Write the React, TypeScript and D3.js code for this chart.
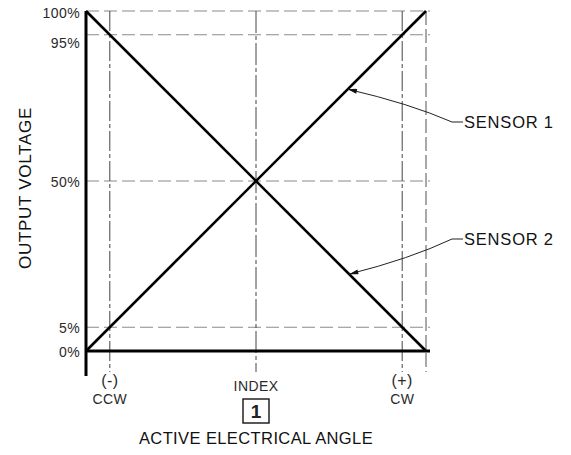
import React from "react";
import * as d3 from "d3";

// ---- data ----
const angleDomain = [-50, 50]; // active electrical angle (arbitrary units), INDEX = 0
const outputDomain = [0, 100]; // output voltage %
const sensor1 = [
  { angle: -50, out: 0 },
  { angle: 50, out: 100 },
];
const sensor2 = [
  { angle: -50, out: 100 },
  { angle: 50, out: 0 },
];
const angleMarks = [
  { angle: -43, top: "(-)", bottom: "CCW" },
  { angle: 0, top: "INDEX", bottom: "" },
  { angle: 43, top: "(+)", bottom: "CW" },
];
const yTickLabels = ["0%", "5%", "50%", "95%", "100%"];
const yTickValues = [0, 7, 50, 93, 100];
const sensorLabels = ["SENSOR 1", "SENSOR 2"];
const sensorArrowAngles = [27, 27.4];

const W = 571;
const H = 455;
const FONT = "'Liberation Sans', Arial, sans-serif";

export default function App() {
  const x = d3.scaleLinear().domain(angleDomain).range([86, 426]);
  const y = d3.scaleLinear().domain(outputDomain).range([351, 11]);
  const line = d3
    .line<{ angle: number; out: number }>()
    .x((d) => x(d.angle))
    .y((d) => y(d.out));

  const s1 = d3.scaleLinear().domain([sensor1[0].angle, sensor1[1].angle]).range([sensor1[0].out, sensor1[1].out]);
  const s2 = d3.scaleLinear().domain([sensor2[0].angle, sensor2[1].angle]).range([sensor2[0].out, sensor2[1].out]);

  const x0 = x(angleDomain[0]);
  const x1 = x(angleDomain[1]);
  const yBottom = 372;

  const arrows = [
    { tipX: x(sensorArrowAngles[0]), tipY: y(s1(sensorArrowAngles[0])), labelY: 122, label: sensorLabels[0] },
    { tipX: x(sensorArrowAngles[1]), tipY: y(s2(sensorArrowAngles[1])), labelY: 239, label: sensorLabels[1] },
  ];

  return (
    <div style={{ margin: -8 }}>
      <svg width={W} height={H} style={{ display: "block", background: "#fff" }}>
        <defs>
          <marker id="arr" viewBox="0 0 11 6" refX="11" refY="3" markerWidth="11" markerHeight="5" markerUnits="userSpaceOnUse" orient="auto">
            <path d="M0,0 L11,3 L0,6 Z" fill="#111" />
          </marker>
        </defs>

        {/* horizontal grid lines */}
        {yTickValues
          .filter((v) => v > 0)
          .map((v) => (
            <line
              key={"h" + v}
              x1={x0}
              x2={x1 + 4}
              y1={y(v)}
              y2={y(v)}
              stroke="#8a8a8a"
              strokeWidth={1.1}
              strokeDasharray="13 5"
            />
          ))}

        {/* right boundary */}
        <line x1={x1} x2={x1} y1={y(100)} y2={yBottom} stroke="#a8a8a8" strokeWidth={2} strokeDasharray="14 4" />

        {/* angle marks (center lines) */}
        {angleMarks.map((m) => (
          <line
            key={"v" + m.angle}
            x1={x(m.angle)}
            x2={x(m.angle)}
            y1={y(100)}
            y2={yBottom}
            stroke="#444"
            strokeWidth={1}
            strokeDasharray={m.angle === 0 ? "22 3 4 3" : "20 3 4 3"}
          />
        ))}

        {/* sensor lines */}
        <path d={line(sensor1) || ""} fill="none" stroke="#000" strokeWidth={2.6} />
        <path d={line(sensor2) || ""} fill="none" stroke="#000" strokeWidth={2.6} />

        {/* axes */}
        <line x1={x0} x2={x0} y1={y(100)} y2={376} stroke="#000" strokeWidth={3} />
        <line x1={x0} x2={x1 + 4} y1={y(0)} y2={y(0)} stroke="#000" strokeWidth={3} />

        {/* y tick labels */}
        {yTickValues.map((v, i) => (
          <text
            key={"yl" + v}
            x={80}
            y={y(v) + (v === 93 ? 8 : v === 100 ? 2 : 1)}
            textAnchor="end"
            dominantBaseline="central"
            fontFamily={FONT}
            fontSize={14}
            letterSpacing={0.4}
            fill="#2a2a2a"
          >
            {yTickLabels[i]}
          </text>
        ))}

        {/* x labels */}
        {angleMarks.map((m) => (
          <g key={"xl" + m.angle} fontFamily={FONT} fill="#2a2a2a" textAnchor="middle" letterSpacing={0.4}>
            <text x={x(m.angle)} y={m.angle === 0 ? 386 : 380} dominantBaseline="central" fontSize={m.angle === 0 ? 14 : 16}>
              {m.top}
            </text>
            {m.bottom && (
              <text x={x(m.angle)} y={399} dominantBaseline="central" fontSize={14}>
                {m.bottom}
              </text>
            )}
          </g>
        ))}

        {/* boxed note */}
        <rect x={x(0) - 13} y={399} width={26} height={24} fill="#fff" stroke="#222" strokeWidth={1.5} />
        <text x={x(0)} y={411.5} textAnchor="middle" dominantBaseline="central" fontFamily={FONT} fontWeight="bold" fontSize={19} fill="#222">
          1
        </text>

        {/* axis titles */}
        <text x={x(0)} y={438} textAnchor="middle" dominantBaseline="central" fontFamily={FONT} fontSize={16.5} letterSpacing={0.4} fill="#111">
          ACTIVE ELECTRICAL ANGLE
        </text>
        <text
          transform={`translate(25,${y(50) + 7}) rotate(-90)`}
          textAnchor="middle"
          dominantBaseline="central"
          fontFamily={FONT}
          fontSize={17}
          letterSpacing={0.7}
          fill="#111"
        >
          OUTPUT VOLTAGE
        </text>

        {/* sensor callouts */}
        {arrows.map((a) => {
          const kx = 452;
          const ctrlX = (a.tipX + kx) / 2 + 10;
          const ctrlY = (a.tipY + a.labelY) / 2 + (a.labelY > a.tipY ? -2 : 2);
          return (
            <g key={a.label}>
              <path
                d={`M${kx + 11},${a.labelY} L${kx},${a.labelY} Q${ctrlX},${ctrlY} ${a.tipX},${a.tipY}`}
                fill="none"
                stroke="#222"
                strokeWidth={1}
                markerEnd="url(#arr)"
              />
              <text x={464} y={a.labelY} dominantBaseline="central" fontFamily={FONT} fontSize={16.5} letterSpacing={0.8} fill="#111">
                {a.label}
              </text>
            </g>
          );
        })}
      </svg>
    </div>
  );
}
